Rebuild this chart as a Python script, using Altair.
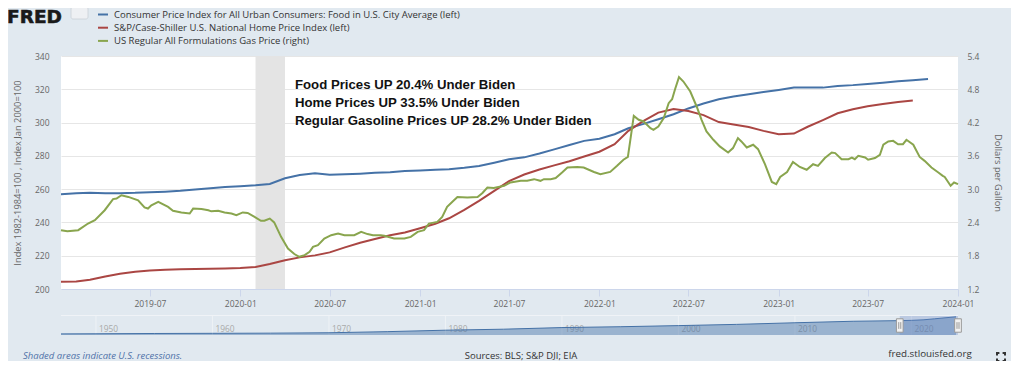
import altair as alt
import pandas as pd

# ---------------- data ----------------
S_FOOD = "Consumer Price Index for All Urban Consumers: Food in U.S. City Average (left)"
S_HOME = "S&P/Case-Shiller U.S. National Home Price Index (left)"
S_GAS = "US Regular All Formulations Gas Price (right)"
series_names = [S_FOOD, S_HOME, S_GAS]
series_colors = ["#4572a7", "#aa4643", "#89a54e"]

food_start = "2019-01-01"   # monthly
food_values = [
    256.9, 257.5, 257.9, 257.5, 257.6, 257.8, 258.2, 258.5, 259.0, 259.8, 260.6, 261.3,
    261.8, 262.3, 263.1, 266.5, 268.5, 269.6, 268.6, 268.9, 269.3, 269.8, 270.2, 270.9,
    271.2, 271.6, 271.9, 272.8, 273.9, 275.9, 277.9, 279.1, 281.4, 283.9, 286.5, 289.0,
    290.3, 293.0, 296.6, 299.2, 302.0, 305.0, 308.5, 311.5, 314.0, 315.6, 317.0, 318.4,
    319.6, 321.0, 321.0, 321.0, 322.0, 322.5, 323.2, 324.0, 324.8, 325.5, 326.2,
]

home_start = "2019-01-01"   # monthly
home_values = [
    204.4, 204.5, 205.5, 207.5, 209.2, 210.4, 211.1, 211.5, 211.8, 212.0, 212.2, 212.3,
    212.6, 213.2, 215.0, 217.3, 219.0, 220.2, 222.0, 225.0, 227.8, 230.0, 232.3, 234.0,
    236.5, 239.2, 242.5, 247.5, 253.0, 259.0, 264.8, 268.8, 271.8, 274.3, 276.8, 279.6,
    282.5, 287.0, 295.0, 301.0, 306.0, 308.2, 307.0, 304.5, 300.3, 298.8, 297.3, 295.0,
    293.0, 293.4, 297.5, 301.5, 305.6, 308.0, 309.8, 311.2, 312.4, 313.2,
]

gas_dates = [
    "2019-01-01", "2019-01-14", "2019-02-05", "2019-02-25", "2019-03-11", "2019-03-31",
    "2019-04-17", "2019-04-24", "2019-05-04", "2019-05-18", "2019-06-07", "2019-06-20",
    "2019-06-27", "2019-07-04", "2019-07-18", "2019-08-07", "2019-08-17", "2019-09-03",
    "2019-09-20", "2019-09-27", "2019-10-14", "2019-10-28", "2019-11-03", "2019-11-17",
    "2019-11-30", "2019-12-14", "2019-12-24", "2020-01-06", "2020-01-16", "2020-01-30",
    "2020-02-12", "2020-02-19", "2020-03-01", "2020-03-10", "2020-03-24", "2020-04-07",
    "2020-04-20", "2020-04-30", "2020-05-11", "2020-05-21", "2020-05-28", "2020-06-07",
    "2020-06-20", "2020-07-04", "2020-07-18", "2020-07-31", "2020-08-20", "2020-09-03",
    "2020-09-16", "2020-09-27", "2020-10-13", "2020-10-20", "2020-11-09", "2020-11-30",
    "2020-12-13", "2020-12-27", "2021-01-09", "2021-01-19", "2021-02-05", "2021-02-15",
    "2021-02-25", "2021-03-11", "2021-03-18", "2021-04-07", "2021-04-28", "2021-05-08",
    "2021-05-18", "2021-05-31", "2021-06-21", "2021-07-04", "2021-07-25", "2021-08-07",
    "2021-08-21", "2021-09-03", "2021-09-10", "2021-09-24", "2021-10-04", "2021-10-17",
    "2021-10-28", "2021-11-17", "2021-11-30", "2021-12-21", "2022-01-03", "2022-01-23",
    "2022-02-06", "2022-02-19", "2022-02-28", "2022-03-05", "2022-03-12", "2022-03-22",
    "2022-04-01", "2022-04-15", "2022-04-21", "2022-05-01", "2022-05-12", "2022-05-22",
    "2022-05-29", "2022-06-04", "2022-06-12", "2022-06-21", "2022-07-05", "2022-07-18",
    "2022-07-28", "2022-08-07", "2022-08-21", "2022-09-03", "2022-09-20", "2022-09-30",
    "2022-10-10", "2022-10-17", "2022-10-28", "2022-11-10", "2022-11-20", "2022-12-04",
    "2022-12-18", "2022-12-27", "2023-01-04", "2023-01-18", "2023-01-30", "2023-02-13",
    "2023-02-27", "2023-03-12", "2023-03-22", "2023-04-05", "2023-04-19", "2023-04-26",
    "2023-05-09", "2023-05-23", "2023-05-30", "2023-06-05", "2023-06-12", "2023-06-26",
    "2023-07-02", "2023-07-16", "2023-07-26", "2023-08-02", "2023-08-12", "2023-08-22",
    "2023-09-01", "2023-09-11", "2023-09-18", "2023-10-02", "2023-10-15", "2023-10-25",
    "2023-11-08", "2023-11-22", "2023-12-01", "2023-12-05", "2023-12-17", "2023-12-24",
    "2024-01-01",
]
gas_values = [
    2.26, 2.24, 2.26, 2.38, 2.44, 2.62,
    2.82, 2.83, 2.89, 2.86, 2.80, 2.67,
    2.65, 2.71, 2.77, 2.68, 2.61, 2.58,
    2.56, 2.65, 2.64, 2.62, 2.60, 2.61,
    2.58, 2.56, 2.53, 2.58, 2.57, 2.50,
    2.43, 2.43, 2.47, 2.40, 2.14, 1.93,
    1.83, 1.78, 1.81, 1.87, 1.96, 1.99,
    2.11, 2.17, 2.20, 2.17, 2.17, 2.23,
    2.19, 2.17, 2.17, 2.16, 2.11, 2.11,
    2.14, 2.23, 2.26, 2.38, 2.41, 2.50,
    2.68, 2.80, 2.86, 2.85, 2.86, 2.93,
    3.03, 3.02, 3.06, 3.12, 3.15, 3.15,
    3.18, 3.15, 3.18, 3.18, 3.20, 3.30,
    3.39, 3.40, 3.39, 3.31, 3.27, 3.31,
    3.42, 3.53, 3.58, 3.89, 4.32, 4.25,
    4.22, 4.10, 4.07, 4.13, 4.28, 4.55,
    4.62, 4.80, 5.02, 4.94, 4.76, 4.49,
    4.25, 4.04, 3.89, 3.77, 3.66, 3.74,
    3.92, 3.86, 3.75, 3.80, 3.72, 3.45,
    3.13, 3.09, 3.22, 3.31, 3.49, 3.40,
    3.35, 3.45, 3.42, 3.56, 3.66, 3.65,
    3.54, 3.54, 3.57, 3.54, 3.60, 3.57,
    3.53, 3.56, 3.62, 3.80, 3.86, 3.87,
    3.81, 3.81, 3.89, 3.80, 3.58, 3.51,
    3.39, 3.30, 3.24, 3.22, 3.06, 3.12,
    3.09,
]

recession_starts = ["2020-02-01"]
recession_ends = ["2020-04-01"]

x_domain = ["2019-01-01", "2024-01-01"]
x_tick_labels = ["2019-07", "2020-01", "2020-07", "2021-01", "2021-07",
                 "2022-01", "2022-07", "2023-01", "2023-07", "2024-01"]
left_domain = [200, 340]
left_ticks = [200, 220, 240, 260, 280, 300, 320, 340]
right_domain = [1.2, 5.4]
right_ticks = [1.2, 1.8, 2.4, 3.0, 3.6, 4.2, 4.8, 5.4]

# navigator (full history of the food index, approximate)
nav_domain = ["1947-01-01", "2024-01-01"]
nav_dates = ["1947-01-01", "1950-01-01", "1955-01-01", "1960-01-01", "1965-01-01",
             "1970-01-01", "1975-01-01", "1980-01-01", "1985-01-01", "1990-01-01",
             "1995-01-01", "2000-01-01", "2005-01-01", "2010-01-01", "2015-01-01",
             "2019-01-01", "2020-01-01", "2021-01-01", "2022-01-01", "2023-11-01"]
nav_values = [20, 22, 27, 30, 33, 40, 60, 86, 104, 133, 148, 168, 190, 219, 246,
              257, 262, 271, 290, 326]
nav_decades = ["1950", "1960", "1970", "1980", "1990", "2000", "2010", "2020"]
nav_selected = ["2019-01-01", "2024-01-01"]

headline_lines = [
    "Food Prices UP 20.4% Under Biden",
    "Home Prices UP 33.5% Under Biden",
    "Regular Gasoline Prices UP 28.2% Under Biden",
]
left_title = "Index 1982-1984=100 , Index Jan 2000=100"
right_title = "Dollars per Gallon"
footer_note = "Shaded areas indicate U.S. recessions."
footer_sources = "Sources: BLS; S&P DJI; EIA"
footer_site = "fred.stlouisfed.org"
logo_text = "FRED"


def dt(s):
    parts = [int(p) for p in s.split("-")]
    return alt.DateTime(year=parts[0], month=parts[1], date=parts[2] if len(parts) > 2 else 1)


# ---------------- frames ----------------
food_df = pd.DataFrame({"date": pd.date_range(food_start, periods=len(food_values), freq="MS"),
                        "value": food_values, "series": S_FOOD})
home_df = pd.DataFrame({"date": pd.date_range(home_start, periods=len(home_values), freq="MS"),
                        "value": home_values, "series": S_HOME})
left_df = pd.concat([food_df, home_df], ignore_index=True)
gas_df = pd.DataFrame({"date": pd.to_datetime(gas_dates), "value": gas_values, "series": S_GAS})
rec_df = pd.DataFrame({"date": pd.to_datetime(recession_starts), "date_end": pd.to_datetime(recession_ends)})
nav_df = pd.DataFrame({"date": pd.to_datetime(nav_dates), "v": nav_values})
dec_df = pd.DataFrame({"date": pd.to_datetime([d + "-01-01" for d in nav_decades]), "label": nav_decades})
sel_df = pd.DataFrame({"date": [pd.Timestamp(nav_selected[0])], "date_end": [pd.Timestamp(nav_selected[1])]})
handle_df = pd.DataFrame({"date": pd.to_datetime(nav_selected)})
one = pd.DataFrame({"k": [0]})

FONT = "Open Sans"
GREY = "#666666"

X_SCALE = alt.Scale(domain=[dt(d) for d in x_domain], nice=False)
x_axis = alt.Axis(values=[dt(t) for t in x_tick_labels], format="%Y-%m", title=None, grid=False,
                  tickSize=7, tickColor="#ccd6eb", domainColor="#ccd6eb", labelPadding=3,
                  labelFlush=False, labelOverlap=False, labelColor=GREY, labelFontSize=8.5,
                  labelFont=FONT)
X_ENC = alt.X("date:T", scale=X_SCALE, axis=x_axis)

COLOR_SCALE = alt.Scale(domain=series_names, range=series_colors)
LEGEND = alt.Legend(orient="none", legendX=36, legendY=-47.5, title=None, symbolType="stroke",
                    symbolSize=100, symbolStrokeWidth=2, labelFontSize=9.5, labelColor="#333333",
                    labelFont=FONT, labelLimit=700, rowPadding=2.2, labelOffset=5, padding=0)

recess = alt.Chart(rec_df).mark_rect(color="#e4e4e4").encode(x=X_ENC, x2="date_end:T")

left_lines = alt.Chart(left_df).mark_line(strokeWidth=2).encode(
    x=X_ENC,
    y=alt.Y("value:Q", scale=alt.Scale(domain=left_domain, nice=False, zero=False),
            axis=alt.Axis(orient="left", values=left_ticks, title=left_title, grid=True,
                          gridColor="#e6e6e6", ticks=False, domain=False, labelPadding=12,
                          titlePadding=12, labelColor=GREY, labelFontSize=8.5, labelFont=FONT,
                          titleFont=FONT, titleFontSize=9.3, titleColor=GREY,
                          titleFontWeight="normal")),
    color=alt.Color("series:N", scale=COLOR_SCALE, legend=LEGEND),
)

gas_line = alt.Chart(gas_df).mark_line(strokeWidth=2).encode(
    x=X_ENC,
    y=alt.Y("value:Q", scale=alt.Scale(domain=right_domain, nice=False, zero=False),
            axis=alt.Axis(orient="right", values=right_ticks, format=".1f", title=right_title,
                          grid=False, ticks=False, domain=False, labelPadding=9, titlePadding=14,
                          labelColor=GREY, labelFontSize=8.5, labelFont=FONT, titleFont=FONT,
                          titleFontSize=9.3, titleColor=GREY, titleFontWeight="normal")),
    color=alt.Color("series:N", scale=COLOR_SCALE, legend=LEGEND),
)

main = alt.layer(recess, left_lines, gas_line).resolve_scale(y="independent")

# ---------------- navigator ----------------
NAV_X = alt.X("date:T", scale=alt.Scale(domain=[dt(d) for d in nav_domain], nice=False), axis=None)
NAV_Y_SCALE = alt.Scale(domain=[0, 340], range=[279, 260], nice=False, zero=False)

nav_grid = alt.Chart(dec_df).mark_rule(color="#eef2f6", strokeWidth=1).encode(
    x=NAV_X, y=alt.value(260), y2=alt.value(279))
nav_labels = alt.Chart(dec_df).mark_text(align="left", baseline="middle", dx=3, font=FONT,
                                         fontSize=8.4, color="#a9a9a9").encode(
    x=NAV_X, y=alt.value(273), text="label:N")
nav_area = alt.Chart(nav_df).mark_area(color="#4572a7", opacity=0.45).encode(
    x=NAV_X, y=alt.Y("v:Q", scale=NAV_Y_SCALE, axis=None), y2=alt.datum(0))
nav_line = alt.Chart(nav_df).mark_line(color="#4572a7", strokeWidth=1).encode(
    x=NAV_X, y=alt.Y("v:Q", scale=NAV_Y_SCALE, axis=None))
nav_sel = alt.Chart(sel_df).mark_rect(color="#6685c2", opacity=0.3).encode(
    x=NAV_X, x2="date_end:T", y=alt.value(260), y2=alt.value(279))
handles = alt.Chart(handle_df).mark_point(shape="M-0.5,-1H0.5V1H-0.5Z", size=180, filled=True,
                                          fill="#f2f2f2", stroke="#999999", strokeWidth=1,
                                          opacity=1).encode(x=NAV_X, y=alt.value(269.5))
grips = alt.Chart(handle_df).mark_point(shape="M-0.15,-0.5V0.5M0.15,-0.5V0.5", size=180,
                                        filled=False, stroke="#999999", strokeWidth=1,
                                        opacity=1).encode(x=NAV_X, y=alt.value(269.5))
nav = alt.layer(nav_grid, nav_labels, nav_area, nav_line, nav_sel, handles, grips)

nav_outline = alt.Chart(one).mark_rule(color="#f0f3f7", strokeWidth=1).encode(
    x=alt.value(0), x2=alt.value(897), y=alt.value(259.5))

# ---------------- texts ----------------
headline = alt.Chart(one).mark_text(text=headline_lines, align="left", baseline="alphabetic",
                                    lineHeight=18, font="Liberation Sans", fontSize=13.2,
                                    fontWeight="bold", color="#111111").encode(
    x=alt.value(234), y=alt.value(32.5))
logo = alt.Chart(one).mark_text(text=logo_text, align="left", baseline="alphabetic",
                                font="DejaVu Sans", fontWeight="bold", fontSize=18.5,
                                color="#1a1a1a", stroke="#1a1a1a", strokeWidth=0.6).encode(
    x=alt.value(-54), y=alt.value(-33))
logo_icon = alt.Chart(one).mark_rect(color="#eef0f3", stroke="#c9cfd6", strokeWidth=0.8,
                                     cornerRadius=2).encode(
    x=alt.value(10), x2=alt.value(27), y=alt.value(-49), y2=alt.value(-37))
note = alt.Chart(one).mark_text(text=footer_note, align="left", baseline="middle", font=FONT,
                                fontSize=9.5, fontStyle="italic", color="#4f72a8").encode(
    x=alt.value(-38), y=alt.value(300))
sources = alt.Chart(one).mark_text(text=footer_sources, align="center", baseline="middle",
                                   font=FONT, fontSize=9.5, color="#333333").encode(
    x=alt.value(460), y=alt.value(300))
site = alt.Chart(one).mark_text(text=footer_site, align="center", baseline="middle", font=FONT,
                                fontSize=9.8, color="#333333").encode(
    x=alt.value(869), y=alt.value(298))
icon = alt.Chart(one).mark_point(
    shape="M-1,-0.4V-1H-0.4M0.4,-1H1V-0.4M1,0.4V1H0.4M-0.4,1H-1V0.4",
    size=64, filled=False, stroke="#333333", strokeWidth=2, opacity=1).encode(
    x=alt.value(940), y=alt.value(301))

chart = alt.layer(main, nav, nav_outline, headline, logo, logo_icon, note, sources, site,
                  icon).resolve_scale(
    x="independent", y="independent"
).properties(
    width=897, height=233,
    padding={"left": 53, "top": 48, "right": 53, "bottom": 72},
    autosize=alt.AutoSizeParams(type="none"),
    background="#e1e9f0",
).configure_view(fill="white", stroke=None)

chart.save("out.html", embed_options={"renderer": "svg", "actions": False})
